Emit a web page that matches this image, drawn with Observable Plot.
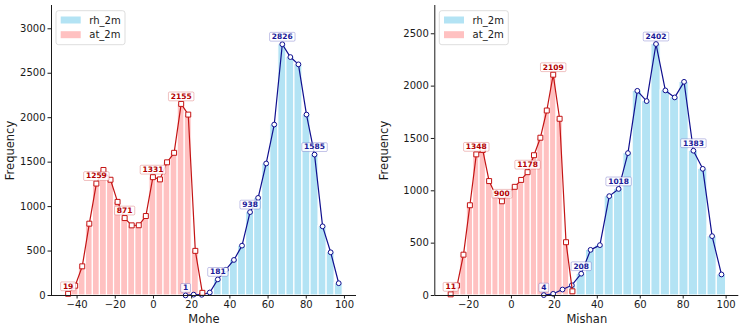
<!DOCTYPE html>
<html><head><meta charset="utf-8">
<script src="https://cdn.jsdelivr.net/npm/d3@7"></script>
<script src="https://cdn.jsdelivr.net/npm/@observablehq/plot@0.6"></script>
<style>
body{margin:0;background:#fff;}
#wrap{display:flex;width:748px;height:329px;overflow:hidden;}
svg{font-family:"DejaVu Sans",sans-serif;}
</style></head><body><div id="wrap"></div>
<script>
// ---- data ----
const seriesNames = ["rh_2m", "at_2m"];
const stations = ["Mohe", "Mishan"];

// histogram bin ranges (min, max of each variable) and bin counts (20 bins)
const moheRhRange = [14.7, 99.1];
const moheRhCounts = [1, 10, 8, 34, 181, 290, 400, 561, 938, 1098, 1485, 1923, 2826, 2682, 2600, 2035, 1585, 778, 486, 138];
const moheAtRange = [-46.55, 27.45];
const moheAtCounts = [19, 110, 328, 808, 1259, 1412, 1302, 1053, 871, 789, 790, 894, 1331, 1306, 1498, 1605, 2155, 2035, 502, 30];

const mishanRhRange = [12.9, 100.0];
const mishanRhCounts = [4, 16, 57, 98, 208, 436, 481, 949, 1018, 1360, 1955, 1857, 2402, 1959, 1892, 2041, 1383, 1210, 567, 201];
const mishanAtRange = [-29.8, 29.9];
const mishanAtCounts = [11, 95, 390, 862, 1348, 1390, 1093, 960, 900, 970, 1038, 1104, 1178, 1340, 1507, 1767, 2109, 1688, 509, 40];

const moheXTicks = [-40, -20, 0, 20, 40, 60, 80, 100];
const mishanXTicks = [-20, 0, 20, 40, 60, 80, 100];
const moheYTicks = [0, 500, 1000, 1500, 2000, 2500, 3000];
const mishanYTicks = [0, 500, 1000, 1500, 2000, 2500];
const yLabel = "Frequency";

// ---- styling ----
const C = {
  rhFill: "#b3e3f4", atFill: "#ffc1c1",
  rhLine: "#10108f", atLine: "#c41414",
  rhText: "#1a1a99", atText: "#b30000",
  rhBox: "rgba(40,40,170,0.35)", atBox: "rgba(200,30,30,0.35)"
};

function toBins(range, counts) {
  const n = counts.length, w = (range[1] - range[0]) / n;
  return counts.map((c, i) => ({
    x1: range[0] + i * w, x2: range[0] + (i + 1) * w,
    xc: range[0] + (i + 0.5) * w, count: c, i
  }));
}

function panel(cfg) {
  const rh = toBins(cfg.rhRange, cfg.rhCounts);
  const at = toBins(cfg.atRange, cfg.atCounts);
  const fmt = d3.format("d");
  const svg = Plot.plot({
    width: 374, height: 329,
    marginLeft: cfg.mL, marginRight: cfg.mR, marginTop: 5, marginBottom: 34,
    style: {fontFamily: "DejaVu Sans, sans-serif", color: "#1a1a1a", background: "white"},
    x: {domain: cfg.xDomain},
    y: {domain: cfg.yDomain},
    marks: [
      Plot.rectY(rh, {x1: "x1", x2: "x2", y: "count", fill: C.rhFill, stroke: "white", strokeWidth: 1.2}),
      Plot.rectY(at, {x1: "x1", x2: "x2", y: "count", fill: C.atFill, stroke: "white", strokeWidth: 1.2}),
      Plot.line(rh, {x: "xc", y: "count", stroke: C.rhLine, strokeWidth: 1.2}),
      Plot.dot(rh, {x: "xc", y: "count", r: 2.4, fill: "white", stroke: C.rhLine, strokeWidth: 1}),
      Plot.line(at, {x: "xc", y: "count", stroke: C.atLine, strokeWidth: 1.2}),
      Plot.dot(at, {x: "xc", y: "count", symbol: "square", r: 2.8, fill: "white", stroke: C.atLine, strokeWidth: 1}),
      Plot.ruleX([cfg.xDomain[0]], {stroke: "#1a1a1a", strokeWidth: 1}),
      Plot.ruleY([cfg.yDomain[0]], {stroke: "#1a1a1a", strokeWidth: 1}),
      Plot.axisX({ticks: cfg.xTicks, tickSize: 3.5, tickPadding: 2, tickFormat: fmt, fontSize: 10, label: null}),
      Plot.axisY({ticks: cfg.yTicks, tickSize: 3.5, tickPadding: 2.5, tickFormat: fmt, fontSize: 10, label: null}),
      Plot.text(rh.filter(d => d.i % 4 === 0), {x: "xc", y: "count", text: d => String(d.count), dy: -7.5,
        fontWeight: "bold", fontSize: 7.5, fill: C.rhText, className: "vlab-rh"}),
      Plot.text(at.filter(d => d.i % 4 === 0), {x: "xc", y: "count", text: d => String(d.count), dy: -7.5,
        fontWeight: "bold", fontSize: 7.5, fill: C.atText, className: "vlab-at"}),
      Plot.text([cfg.name], {frameAnchor: "bottom", lineAnchor: "middle", textAnchor: "middle", dy: 24, fontSize: 11.5, fill: "#1a1a1a"}),
      Plot.text([yLabel], {frameAnchor: "left", lineAnchor: "middle", textAnchor: "middle", dx: -(cfg.mL - 10), rotate: -90, fontSize: 11.5, fill: "#1a1a1a"})
    ]
  });
  return svg;
}

function decorate(svg, mL) {
  // boxes behind value labels
  [["vlab-rh", C.rhBox], ["vlab-at", C.atBox]].forEach(([cls, col]) => {
    d3.select(svg).selectAll("g." + cls + " text").each(function() {
      const b = this.getBBox();
      const r = document.createElementNS("http://www.w3.org/2000/svg", "rect");
      const t = this.getAttribute("transform");
      if (t) r.setAttribute("transform", t);
      r.setAttribute("x", b.x - 2.3);
      r.setAttribute("y", b.y + 0.2);
      r.setAttribute("width", b.width + 4.6);
      r.setAttribute("height", b.height - 0.2);
      r.setAttribute("rx", 1.2);
      r.setAttribute("fill", "white");
      r.setAttribute("fill-opacity", 0.85);
      r.setAttribute("stroke", col);
      r.setAttribute("stroke-width", 0.8);
      this.parentNode.insertBefore(r, this);
    });
  });
  // legend
  const g = d3.select(svg).append("g").attr("text-anchor", "start");
  const x0 = mL + 5, y0 = 10.7;
  g.append("rect").attr("x", x0).attr("y", y0).attr("width", 69).attr("height", 34).attr("rx", 2.5)
    .attr("fill", "white").attr("fill-opacity", 0.8).attr("stroke", "#d4d4d4").attr("stroke-width", 0.8);
  const fills = [C.rhFill, C.atFill];
  seriesNames.forEach((s, k) => {
    const cy = 20 + k * 14.7;
    g.append("rect").attr("x", x0 + 4.7).attr("y", cy - 3.5).attr("width", 20).attr("height", 7).attr("fill", fills[k]);
    g.append("text").attr("x", x0 + 33.3).attr("y", cy).attr("dy", "0.35em").attr("text-anchor", "start")
      .attr("font-size", 10).attr("fill", "#1a1a1a").text(s);
  });
}

const wrap = document.getElementById("wrap");
const cfgs = [
  {name: stations[0], rhRange: moheRhRange, rhCounts: moheRhCounts, atRange: moheAtRange, atCounts: moheAtCounts,
   xDomain: [-53.4, 106.3], yDomain: [0, 3262], xTicks: moheXTicks, yTicks: moheYTicks, mL: 51, mR: 18},
  {name: stations[1], rhRange: mishanRhRange, rhCounts: mishanRhCounts, atRange: mishanAtRange, atCounts: mishanAtCounts,
   xDomain: [-35.7, 105.9], yDomain: [0, 2770], xTicks: mishanXTicks, yTicks: mishanYTicks, mL: 60.3, mR: 9.7}
];
cfgs.forEach(cfg => {
  const svg = panel(cfg);
  wrap.appendChild(svg);
  decorate(svg, cfg.mL);
});
</script></body></html>
